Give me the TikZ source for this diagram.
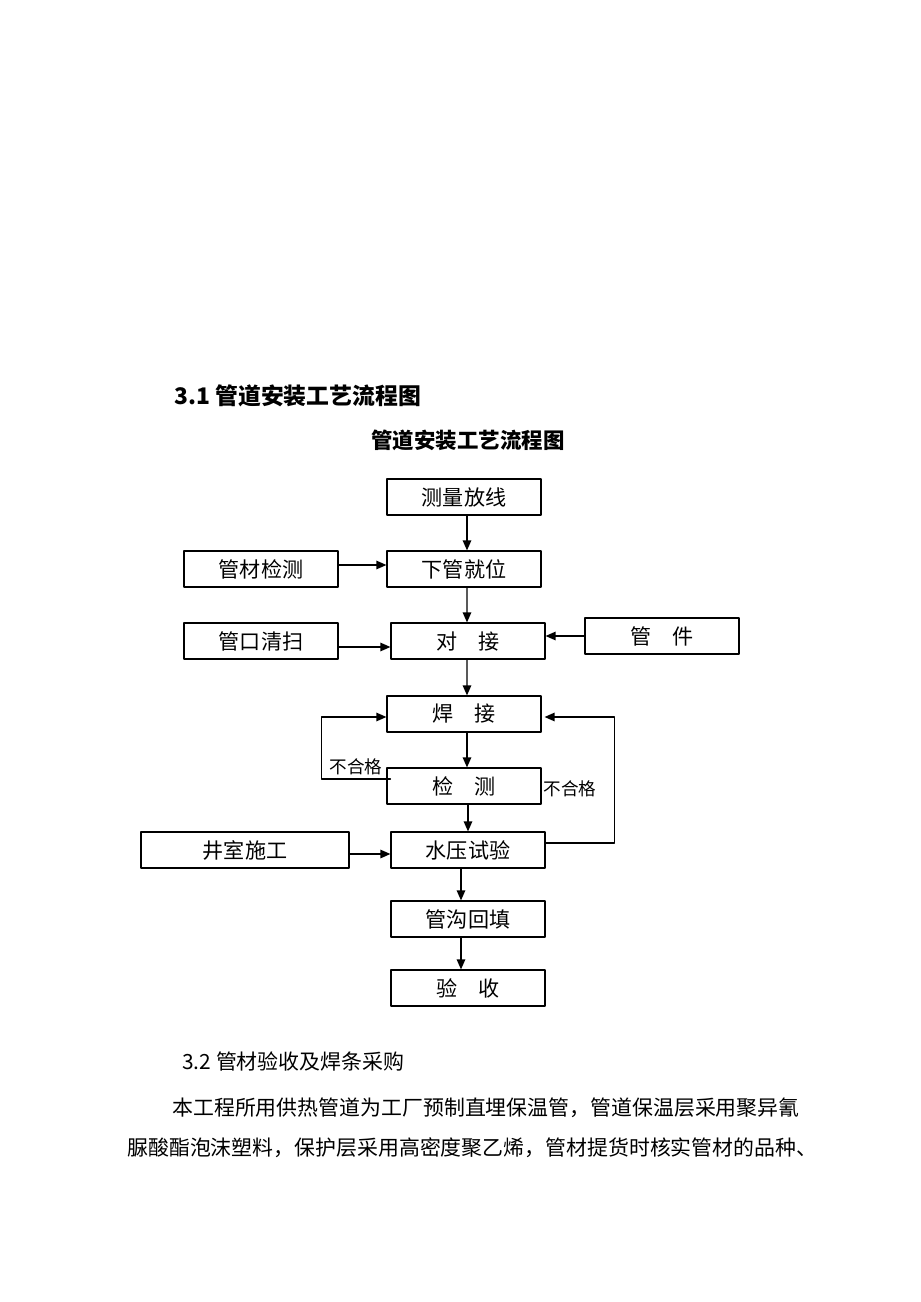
\documentclass[tikz,border=0pt]{standalone}
\usepackage{fontspec}
\setmainfont{Noto Sans CJK SC}
\usetikzlibrary{arrows.meta,positioning}

\begin{document}
\begin{tikzpicture}[line cap=round,line join=round,>={Triangle[length=2mm,width=1.7mm]},x=0.02cm,y=-0.02cm,
  box/.style={draw,line width=0.7pt,minimum width=3.08cm,minimum height=0.72cm,inner sep=0pt,font=\fontsize{12}{14}\selectfont},
  flow/.style={->,line width=0.7pt},
  lbl/.style={inner sep=0pt,font=\fontsize{10}{12}\selectfont},
  txt/.style={inner sep=0pt,anchor=west,font=\fontsize{11.9}{15}\selectfont}]
\useasboundingbox (0,0) rectangle (920,1302);
\node[inner sep=0pt,anchor=west,font=\fontsize{13}{15}\selectfont\bfseries] (head) at (174,396) {3.1 管道安装工艺流程图};
\node[inner sep=0pt,font=\fontsize{12.2}{15}\selectfont\bfseries] (title) at (468,440) {管道安装工艺流程图};
\node[box] (survey) at (464,497) {测量放线};
\node[box] (lower) at (464,569) {下管就位};
\node[box] (inspect) at (261,569) {管材检测};
\node[box] (clean) at (261,641) {管口清扫};
\node[box] (butt) at (468,641) {对\hspace{1em}接};
\node[box] (fitting) at (662,636) {管\hspace{1em}件};
\node[box] (weld) at (464,714) {焊\hspace{1em}接};
\node[box] (check) at (464,786) {检\hspace{1em}测};
\node[box] (pressure) at (468,850) {水压试验};
\node[box,minimum width=4.16cm] (well) at (245,850) {井室施工};
\node[box] (backfill) at (468,919) {管沟回填};
\node[box] (accept) at (468,988) {验\hspace{1em}收};
\draw[flow] ([xshift=0.06cm]survey.south) -- ([xshift=0.06cm]lower.north);
\draw[flow] ([yshift=0.08cm]inspect.east) -- ([yshift=0.08cm]lower.west);
\draw[flow] ([xshift=0.06cm]lower.south) -- ([xshift=-0.02cm]butt.north);
\draw[flow] ([yshift=-0.12cm]clean.east) -- ([yshift=-0.12cm]butt.west);
\draw[flow] (fitting.west) -- (fitting.west -| butt.east);
\draw[flow] ([xshift=-0.02cm]butt.south) -- ([xshift=0.06cm]weld.north);
\draw[flow] ([xshift=0.06cm]weld.south) -- ([xshift=0.06cm]check.north);
\draw[flow] ([xshift=0.08cm]check.south) -- ([xshift=0.08cm]check.south |- pressure.north);
\draw[flow] ([yshift=-0.08cm]well.east) -- ([yshift=-0.08cm]pressure.west);
\draw[flow] ([xshift=-0.14cm]pressure.south) -- ([xshift=-0.14cm]backfill.north);
\draw[flow] ([xshift=-0.14cm]backfill.south) -- ([xshift=-0.14cm]accept.north);
\draw[flow] ([xshift=0.08cm,yshift=0.14cm]check.west) -- ++(-69,0) |- ([yshift=-0.06cm]weld.west);
\draw[flow] ([yshift=0.14cm]pressure.east) -- ++(69,0) |- ([xshift=0.06cm,yshift=-0.06cm]weld.east);
\node[lbl] (fail1) at (356,767) {不合格};
\node[lbl] (fail2) at (570,789) {不合格};
\node[txt] (sub) at (182,1062) {3.2 管材验收及焊条采购};
\node[txt] (line1) at (172,1108) {本工程所用供热管道为工厂预制直埋保温管，管道保温层采用聚异氰};
\node[txt] (line2) at (127,1148) {脲酸酯泡沫塑料，保护层采用高密度聚乙烯，管材提货时核实管材的品种、};
\end{tikzpicture}
\end{document}
